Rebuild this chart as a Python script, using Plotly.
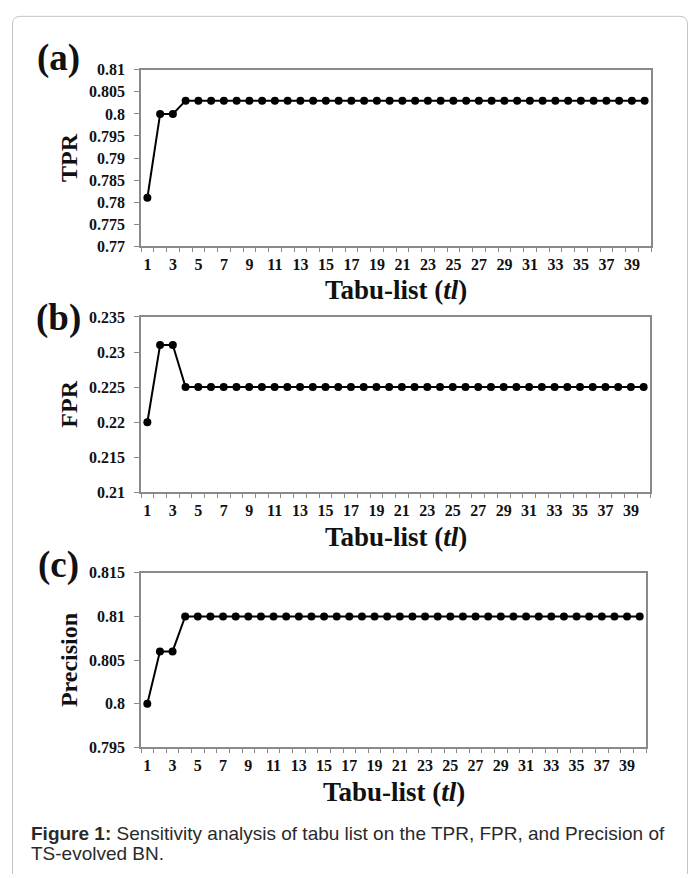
import plotly.graph_objects as go

W, H = 695, 878

# ---- data ----
tabu_list = list(range(1, 41))
tpr = [0.781, 0.800, 0.800] + [0.803] * 37
fpr = [0.220, 0.231, 0.231] + [0.225] * 37
precision = [0.800, 0.806, 0.806] + [0.810] * 37

x_tick_vals = list(range(1, 40, 2))
x_tick_text = [str(v) for v in x_tick_vals]

tpr_ticks = [0.77, 0.775, 0.78, 0.785, 0.79, 0.795, 0.8, 0.805, 0.81]
tpr_ticktext = ["0.77", "0.775", "0.78", "0.785", "0.79", "0.795", "0.8", "0.805", "0.81"]
fpr_ticks = [0.21, 0.215, 0.22, 0.225, 0.23, 0.235]
fpr_ticktext = ["0.21", "0.215", "0.22", "0.225", "0.23", "0.235"]
prec_ticks = [0.795, 0.8, 0.805, 0.81, 0.815]
prec_ticktext = ["0.795", "0.8", "0.805", "0.81", "0.815"]

panels = [
    dict(y=tpr, name="TPR", label="(a)", ticks=tpr_ticks, ticktext=tpr_ticktext,
         rng=[0.77, 0.81], top=63, bottom=243, left=141, right=651, label_y=51),
    dict(y=fpr, name="FPR", label="(b)", ticks=fpr_ticks, ticktext=fpr_ticktext,
         rng=[0.21, 0.235], top=315, bottom=494, left=141, right=650, label_y=316),
    dict(y=precision, name="Precision", label="(c)", ticks=prec_ticks, ticktext=prec_ticktext,
         rng=[0.795, 0.815], top=576, bottom=754, left=141, right=646, label_y=568),
]

def px(x):
    return x / W

def py(y):
    return 1 - y / H

SERIF = "Liberation Serif, Times New Roman, serif"
SANS = "Liberation Sans, Arial, sans-serif"
AXIS_GRAY = "#8a8a8a"

fig = go.Figure()
layout = dict(
    width=W, height=H,
    margin=dict(l=0, r=0, t=0, b=0),
    paper_bgcolor="white", plot_bgcolor="white",
    showlegend=False,
)
annotations = []

for i, p in enumerate(panels, start=1):
    xa = "x" if i == 1 else f"x{i}"
    ya = "y" if i == 1 else f"y{i}"
    fig.add_trace(go.Scatter(
        x=tabu_list, y=p["y"], mode="lines+markers",
        line=dict(color="black", width=2),
        marker=dict(color="black", size=8, symbol="circle"),
        xaxis=xa, yaxis=ya, cliponaxis=False,
    ))
    xkey = "xaxis" if i == 1 else f"xaxis{i}"
    ykey = "yaxis" if i == 1 else f"yaxis{i}"
    layout[xkey] = dict(
        domain=[px(p["left"]), px(p["right"])],
        anchor=ya, range=[0.5, 40.5],
        tickmode="array", tickvals=x_tick_vals, ticktext=x_tick_text,
        ticks="outside", ticklen=3, tickcolor="rgba(0,0,0,0)",
        ticklabelstandoff=0,
        tickfont=dict(family=SERIF, size=16, color="#111", weight="bold"),
        showline=True, linecolor=AXIS_GRAY, linewidth=1.5, mirror=True,
        showgrid=False, zeroline=False,
        minor=dict(tickmode="linear", tick0=0.5, dtick=1, ticks="outside",
                   ticklen=4, tickcolor=AXIS_GRAY, tickwidth=1, showgrid=False),
    )
    layout[ykey] = dict(
        domain=[py(p["bottom"]), py(p["top"])],
        anchor=xa, range=p["rng"],
        tickmode="array", tickvals=p["ticks"], ticktext=p["ticktext"],
        ticks="outside", ticklen=5, tickcolor=AXIS_GRAY, tickwidth=1,
        ticklabelstandoff=6,
        tickfont=dict(family=SERIF, size=16, color="#111", weight="bold"),
        showline=True, linecolor=AXIS_GRAY, linewidth=1.5, mirror=True,
        showgrid=False, zeroline=False,
    )
    # panel label
    annotations.append(dict(
        text=f"<b>{p['label']}</b>", x=px(58), y=py(p["label_y"]),
        xref="paper", yref="paper", xanchor="center", yanchor="middle",
        showarrow=False, font=dict(family=SERIF, size=37, color="#111"),
    ))
    # y-axis title
    annotations.append(dict(
        text=f"<b>{p['name']}</b>", x=px(69), y=py((p["top"] + p["bottom"]) / 2),
        xref="paper", yref="paper", xanchor="center", yanchor="middle",
        textangle=-90, showarrow=False,
        font=dict(family=SERIF, size=24, color="#111"),
    ))
    # x-axis title
    annotations.append(dict(
        text="<b>Tabu-list (<i>tl</i>)</b>",
        x=px((p["left"] + p["right"]) / 2), y=py(p["bottom"] + 45),
        xref="paper", yref="paper", xanchor="center", yanchor="middle",
        showarrow=False, font=dict(family=SERIF, size=27, color="#111"),
    ))

# caption (two lines placed separately)
caption_lines = [
    "<b>Figure 1:</b> Sensitivity analysis of tabu list on the TPR, FPR, and Precision of",
    "TS-evolved BN.",
]
for k, line in enumerate(caption_lines):
    annotations.append(dict(
        text=line, x=px(29), y=py(842 + 20 * k), xref="paper", yref="paper",
        xanchor="left", yanchor="middle", align="left", showarrow=False,
        font=dict(family=SANS, size=19, color="#2a2a2a"),
    ))

layout["annotations"] = annotations

# outer rounded frame (open at bottom)
x0, x1, y0 = 12.5, 687.5, 8.5
r = 8
path = (f"M {px(x0)},{py(H + 5)} L {px(x0)},{py(y0 + r)} "
        f"Q {px(x0)},{py(y0)} {px(x0 + r)},{py(y0)} "
        f"L {px(x1 - r)},{py(y0)} Q {px(x1)},{py(y0)} {px(x1)},{py(y0 + r)} "
        f"L {px(x1)},{py(H + 5)}")
layout["shapes"] = [dict(type="path", path=path, xref="paper", yref="paper",
                         line=dict(color="#c4c4c4", width=1), layer="below")]

fig.update_layout(**layout)
fig.write_html("out.html")
